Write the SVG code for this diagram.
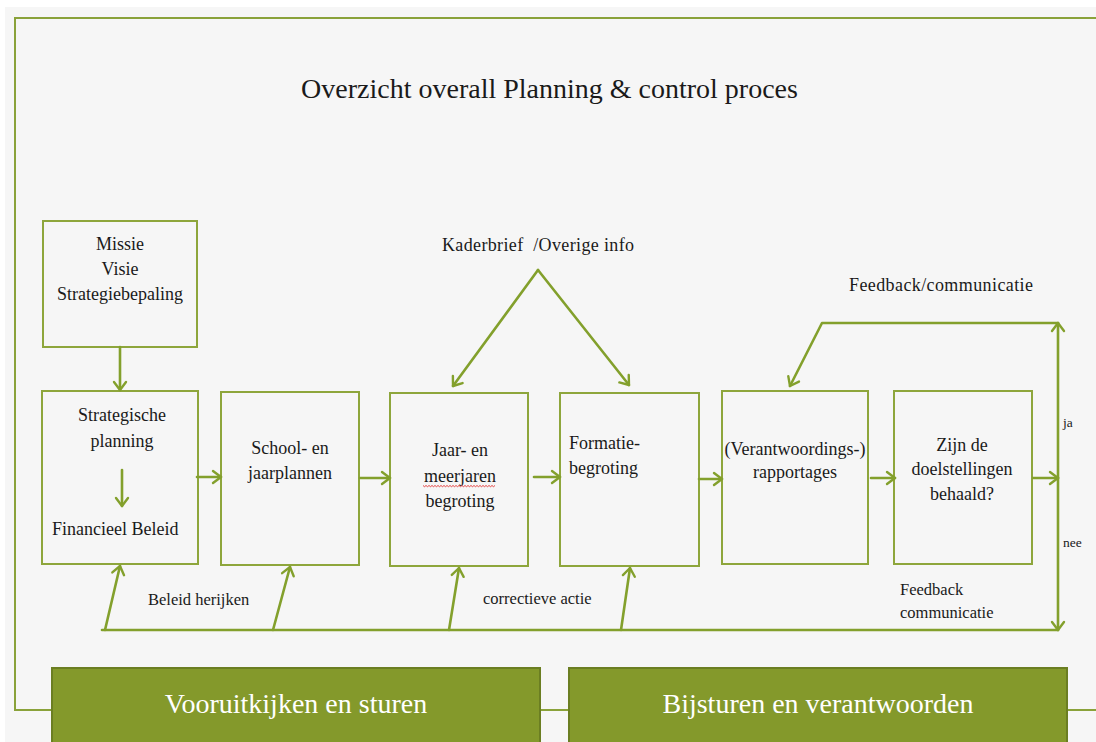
<svg xmlns="http://www.w3.org/2000/svg" width="1096" height="742" viewBox="0 0 1096 742">
  <style>
    .box { fill: none; stroke: #8ea63c; stroke-width: 2; }
    .con { fill: none; stroke: #83a02c; stroke-width: 2.6; stroke-linecap: round; stroke-linejoin: round; }
    .frame { fill: none; stroke: #8aa23a; stroke-width: 2; }
    .t { font-family: "Liberation Serif", "Times New Roman", serif; font-size: 18px; fill: #1a1a1a; }
    .c { text-anchor: middle; }
    .s { font-size: 16.5px; }
    .xs { font-size: 13.5px; }
    .title { font-size: 28px; }
    .band { fill: #84992b; stroke: #6b7e22; stroke-width: 2; }
    .bandtxt { font-family: "Liberation Serif", "Times New Roman", serif; font-size: 28px; fill: #ffffff; text-anchor: middle; }
  </style>
  <defs>
    <marker id="arr" viewBox="-10 -8 12 16" refX="0" refY="0" markerWidth="12" markerHeight="16" markerUnits="userSpaceOnUse" orient="auto" overflow="visible">
      <path d="M-8,-6 L0,0 L-8,6" fill="none" stroke="#83a02c" stroke-width="2.4" stroke-linecap="round" stroke-linejoin="round"/>
    </marker>
  </defs>

  <rect x="0" y="0" width="1096" height="742" fill="#ffffff"/>
  <rect x="5" y="7" width="1091" height="735" fill="#f6f6f6"/>

  <g id="frame">
    <path class="frame" d="M1096,18 L15,18 L15,710 L52,710 M540,710 L569,710 M1067,710 L1096,710"/>
  </g>

  <g id="title">
    <text class="t title c" x="549.5" y="98">Overzicht overall Planning &amp; control proces</text>
  </g>

  <g id="missie">
    <rect class="box" x="43" y="221" width="154" height="126"/>
    <text class="t c" x="120" y="250">Missie</text>
    <text class="t c" x="120" y="275">Visie</text>
    <text class="t c" x="120" y="300">Strategiebepaling</text>
  </g>

  <g id="strategische-planning">
    <rect class="box" x="42" y="391" width="156" height="173"/>
    <text class="t c" x="122" y="421">Strategische</text>
    <text class="t c" x="122" y="447">planning</text>
    <line class="con" x1="122" y1="470" x2="122" y2="506" marker-end="url(#arr)"/>
    <text class="t" x="52" y="535">Financieel Beleid</text>
  </g>

  <g id="school-jaarplannen">
    <rect class="box" x="221" y="392" width="138" height="173"/>
    <text class="t c" x="290" y="454">School- en</text>
    <text class="t c" x="290" y="479">jaarplannen</text>
  </g>

  <g id="jaar-meerjaren-begroting">
    <rect class="box" x="390" y="393" width="138" height="173"/>
    <text class="t c" x="460" y="456">Jaar- en</text>
    <text class="t c" x="460" y="482">meerjaren</text>
    <path d="M423,485.5 l1.5,1.2 l1.5,-1.2 l1.5,1.2 l1.5,-1.2 l1.5,1.2 l1.5,-1.2 l1.5,1.2 l1.5,-1.2 l1.5,1.2 l1.5,-1.2 l1.5,1.2 l1.5,-1.2 l1.5,1.2 l1.5,-1.2 l1.5,1.2 l1.5,-1.2 l1.5,1.2 l1.5,-1.2 l1.5,1.2 l1.5,-1.2 l1.5,1.2 l1.5,-1.2 l1.5,1.2 l1.5,-1.2 l1.5,1.2 l1.5,-1.2 l1.5,1.2 l1.5,-1.2 l1.5,1.2 l1.5,-1.2 l1.5,1.2 l1.5,-1.2 l1.5,1.2 l1.5,-1.2 l1.5,1.2 l1.5,-1.2 l1.5,1.2 l1.5,-1.2 l1.5,1.2 l1.5,-1.2 l1.5,1.2 l1.5,-1.2 l1.5,1.2 l1.5,-1.2 l1.5,1.2 l1.5,-1.2 l1.5,1.2 l1.5,-1.2" fill="none" stroke="#e03030" stroke-width="0.9"/>
    <text class="t c" x="460" y="507">begroting</text>
  </g>

  <g id="formatie-begroting">
    <rect class="box" x="560" y="393" width="139" height="173"/>
    <text class="t" x="569" y="449">Formatie-</text>
    <text class="t" x="569" y="474">begroting</text>
  </g>

  <g id="rapportages">
    <rect class="box" x="722" y="391" width="146" height="173"/>
    <text class="t c" x="795" y="455">(Verantwoordings-)</text>
    <text class="t c" x="795" y="478">rapportages</text>
  </g>

  <g id="doelstellingen">
    <rect class="box" x="894" y="391" width="138" height="173"/>
    <text class="t c" x="962" y="451">Zijn de</text>
    <text class="t c" x="962" y="475">doelstellingen</text>
    <text class="t c" x="962" y="500">behaald?</text>
  </g>

  <g id="kaderbrief">
    <text class="t" x="442" y="251" xml:space="preserve" textLength="192" lengthAdjust="spacing">Kaderbrief  /Overige info</text>
  </g>

  <g id="vooruitkijken">
    <rect class="band" x="52" y="668" width="488" height="80"/>
    <text class="bandtxt" x="296" y="713">Vooruitkijken en sturen</text>
  </g>

  <g id="bijsturen">
    <rect class="band" x="569" y="668" width="498" height="80"/>
    <text class="bandtxt" x="818" y="713">Bijsturen en verantwoorden</text>
  </g>

  <g id="connectors">
    <line class="con" x1="120" y1="347" x2="120" y2="390" marker-end="url(#arr)"/>
    <line class="con" x1="197" y1="477" x2="221" y2="477" marker-end="url(#arr)"/>
    <line class="con" x1="360" y1="478" x2="390" y2="478" marker-end="url(#arr)"/>
    <line class="con" x1="534" y1="477" x2="560" y2="477" marker-end="url(#arr)"/>
    <line class="con" x1="699" y1="479" x2="722" y2="479" marker-end="url(#arr)"/>
    <line class="con" x1="871" y1="478" x2="895" y2="478" marker-end="url(#arr)"/>
    <line class="con" x1="1033" y1="478" x2="1058" y2="478" marker-end="url(#arr)"/>

    <path class="con" d="M538,270 L453,386" marker-end="url(#arr)"/>
    <path class="con" d="M538,270 L629,385" marker-end="url(#arr)"/>

    <line class="con" x1="1058" y1="478" x2="1058" y2="323" marker-end="url(#arr)"/>
    <line class="con" x1="1058" y1="478" x2="1058" y2="630" marker-end="url(#arr)"/>
    <path class="con" d="M1058,323 L822,323 L790,386" marker-end="url(#arr)"/>

    <line class="con" x1="1058" y1="630" x2="102" y2="630"/>
    <line class="con" x1="105" y1="630" x2="120" y2="566" marker-end="url(#arr)"/>
    <line class="con" x1="273" y1="630" x2="290" y2="567" marker-end="url(#arr)"/>
    <line class="con" x1="449" y1="630" x2="459" y2="568" marker-end="url(#arr)"/>
    <line class="con" x1="621" y1="630" x2="630" y2="568" marker-end="url(#arr)"/>
  </g>

  <g id="labels">
    <text class="t" x="849" y="291" textLength="184" lengthAdjust="spacing">Feedback/communicatie</text>
    <text class="t xs" x="1063" y="427">ja</text>
    <text class="t xs" x="1063" y="547">nee</text>
    <text class="t s" x="148" y="605">Beleid herijken</text>
    <text class="t s" x="483" y="604">correctieve actie</text>
    <text class="t s" x="900" y="595">Feedback</text>
    <text class="t s" x="900" y="618">communicatie</text>
  </g>
</svg>
